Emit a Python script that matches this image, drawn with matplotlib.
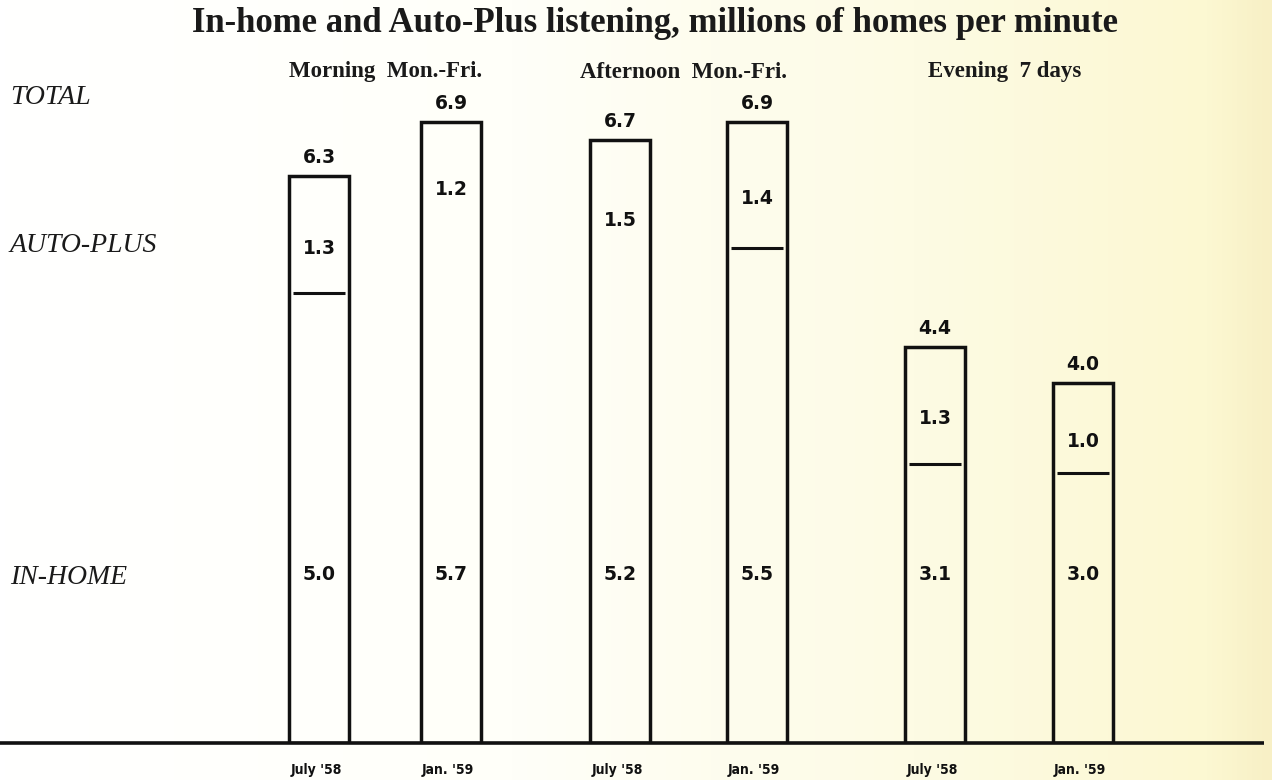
import numpy as np
import matplotlib
matplotlib.use("Agg")
import matplotlib.pyplot as plt
from matplotlib.colors import LinearSegmentedColormap

# ---------------------------------------------------------------------------
# Data (millions of homes per minute)
# ---------------------------------------------------------------------------
groups = ["Morning  Mon.-Fri.", "Afternoon  Mon.-Fri.", "Evening  7 days"]
periods = ["July '58", "Jan. '59", "July '58", "Jan. '59", "July '58", "Jan. '59"]
in_home = [5.0, 5.7, 5.2, 5.5, 3.1, 3.0]
auto_plus = [1.3, 1.2, 1.5, 1.4, 1.3, 1.0]
total = [6.3, 6.9, 6.7, 6.9, 4.4, 4.0]
row_labels = ["TOTAL", "AUTO-PLUS", "IN-HOME"]

# ---------------------------------------------------------------------------
# Layout (pixel-based x axis, 90 px per million on y)
# ---------------------------------------------------------------------------
bar_x = [319, 451, 620, 757, 935, 1083]
group_x = [386, 684, 1005]
bar_w = 60
divider_shown = [True, False, False, True, True, True]  # as printed

W, H = 1272, 780
fig = plt.figure(figsize=(W / 100, H / 100), dpi=100)

# scanned-paper background: white on the left, pale yellow on the right
bg = fig.add_axes([0, 0, 1, 1], zorder=-10)
cmap = LinearSegmentedColormap.from_list(
    "paper", [(0, "#FFFFFF"), (0.4, "#FFFFF9"), (0.72, "#FDFBE4"), (0.95, "#FCF8D2"), (1, "#F8F0C6")])
bg.imshow(np.linspace(0, 1, 256)[None, :], aspect="auto", cmap=cmap, extent=[0, 1, 0, 1])
bg.axis("off")

base_px = 743
ax = fig.add_axes([0, (H - base_px) / H, 1, 720 / H])
ax.set_xlim(0, W)
ax.set_ylim(0, 8.0)
ax.axis("off")
ax.patch.set_alpha(0)

# bars (open outline standing on the baseline)
ax.bar(bar_x, total, width=bar_w, fill=False, edgecolor="#111111", linewidth=2.5, zorder=3)

for x, ih, ap, tot, show in zip(bar_x, in_home, auto_plus, total, divider_shown):
    if show:
        ax.hlines(ih, x - bar_w / 2 + 4, x + bar_w / 2 - 4, color="#111111", linewidth=2.2, zorder=3)
    lab = dict(ha="center", va="center", fontsize=13.5, fontweight="bold",
               family="DejaVu Sans", color="#111111")
    ax.text(x, tot + 0.2, f"{tot:.1f}", **lab)
    ax.text(x, ih + ap / 2 - 0.15, f"{ap:.1f}", **lab)
    ax.text(x, 1.87, f"{ih:.1f}", **lab)

# baseline
ax.hlines(0, 0, 1264, color="#111111", linewidth=2.6, zorder=4, clip_on=False)

# period labels under the baseline
for x, p in zip(bar_x, periods):
    ax.text(x - 3, -0.3, p, ha="center", va="center", fontsize=10, fontweight="bold",
            family="DejaVu Sans", fontstretch="condensed", color="#111111", clip_on=False)

# title and group headers
fig.text(655 / W, 1 - 23 / H, "In-home and Auto-Plus listening, millions of homes per minute",
         ha="center", va="center", fontsize=25, fontweight="bold", family="Liberation Serif",
         color="#1a1a1a")
for gx, g in zip(group_x, groups):
    fig.text(gx / W, 1 - 72 / H, g, ha="center", va="center", fontsize=16.5, fontweight="bold",
             family="Liberation Serif", color="#1a1a1a")

# row labels on the left
for lbl, py in zip(row_labels, [98, 245, 577]):
    fig.text(10 / W, 1 - py / H, lbl, ha="left", va="center", fontsize=20, style="italic",
             family="Liberation Serif", color="#1a1a1a")

fig.savefig("out.png", dpi=100)
